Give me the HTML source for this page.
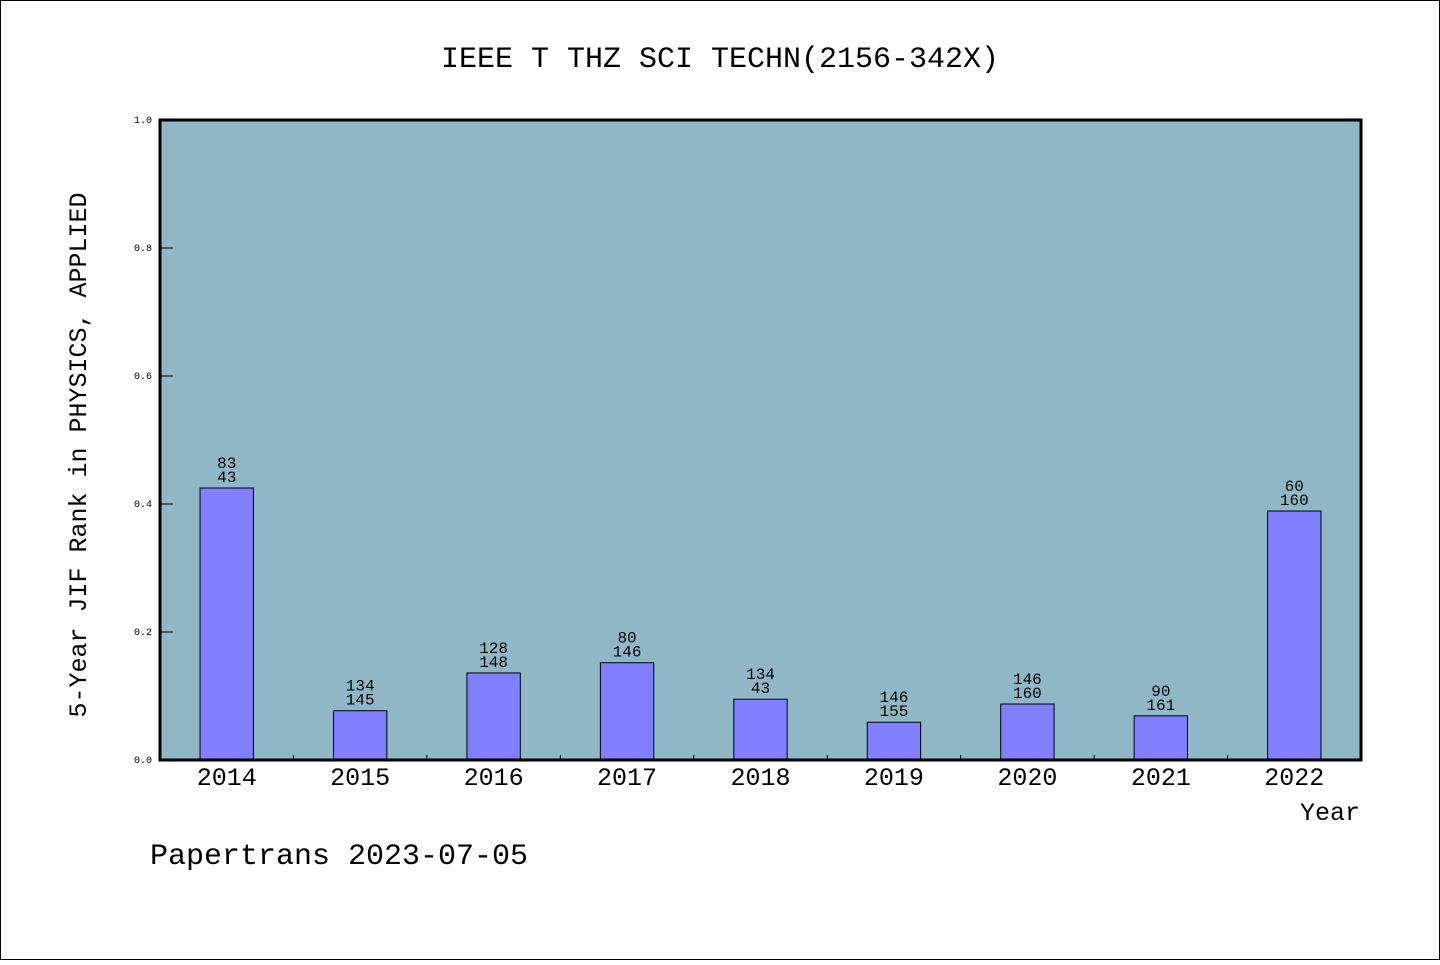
<!DOCTYPE html>
<html><head><meta charset="utf-8"><style>
html,body{margin:0;padding:0;background:#fff}
svg text{font-family:"Liberation Mono","DejaVu Sans Mono",monospace;fill:#000}
</style></head><body>
<svg id="chart" width="1440" height="960" xmlns="http://www.w3.org/2000/svg">
<rect x="0.5" y="0.5" width="1439" height="959" fill="#fff" stroke="#000"/>
<text x="720" y="67" font-size="30" text-anchor="middle">IEEE T THZ SCI TECHN(2156-342X)</text>
<rect x="160" y="120" width="1201" height="640" fill="#8fb7c6"/>
<g id="ticks"></g>
<g id="bars"></g>
<rect x="160" y="120" width="1201" height="640" fill="none" stroke="#000" stroke-width="3"/>
<text transform="translate(86,455) rotate(-90)" font-size="25" text-anchor="middle">5-Year JIF Rank in PHYSICS, APPLIED</text>
<text x="1360" y="820" font-size="25" text-anchor="end">Year</text>
<text x="150" y="864" font-size="30">Papertrans 2023-07-05</text>
</svg>
<script>
const categories=["2014","2015","2016","2017","2018","2019","2020","2021","2022"];
const values=[0.425,0.077,0.136,0.152,0.095,0.059,0.0875,0.069,0.389];
const labelTop=["83","134","128","80","134","146","146","90","60"];
const labelBottom=["43","145","148","146","43","155","160","161","160"];
const yTicks=[0,0.2,0.4,0.6,0.8,1.0];
const NS="http://www.w3.org/2000/svg";
const X0=160,X1=1361,Y0=760,Y1=120;
const band=(X1-X0)/categories.length;
const xc=i=>X0+band*(i+0.5);
const y=v=>Y0-(v)*(Y0-Y1);
function mk(tag,attrs,parent){const e=document.createElementNS(NS,tag);for(const k in attrs)e.setAttribute(k,attrs[k]);parent.appendChild(e);return e;}
const tg=document.getElementById('ticks'),bg=document.getElementById('bars');
yTicks.forEach(t=>{
 const l=mk('line',{x1:X0,x2:X0+13,y1:y(t),y2:y(t),stroke:'#000','stroke-width':1},tg);
 
 
 const tx=mk('text',{x:X0-8,y:y(t)+3,'font-size':10,'text-anchor':'end'},tg);
 tx.textContent=t.toFixed(1);
 
 
});
for(let i=1;i<categories.length;i++){
 const l=mk('line',{x1:X0+band*i,x2:X0+band*i,y1:Y0,y2:Y0-5,stroke:'#000','stroke-width':1},tg);
 
 
}
categories.forEach((c,i)=>{
 const w=band*0.4;
 const r=mk('rect',{x:xc(i)-w/2,y:y(values[i]),width:w,height:Y0-y(values[i]),fill:'#8080ff',stroke:'#000','stroke-width':1},bg);
 
 
 const a=mk('text',{x:xc(i),y:y(values[i])-20,'font-size':16,'text-anchor':'middle'},bg);
 a.textContent=labelTop[i];
 
 
 const b=mk('text',{x:xc(i),y:y(values[i])-6,'font-size':16,'text-anchor':'middle'},bg);
 b.textContent=labelBottom[i];
 
 
 const t=mk('text',{x:xc(i),y:785,'font-size':25,'text-anchor':'middle'},bg);
 t.textContent=c;
 
 
});
</script>
</body></html>
